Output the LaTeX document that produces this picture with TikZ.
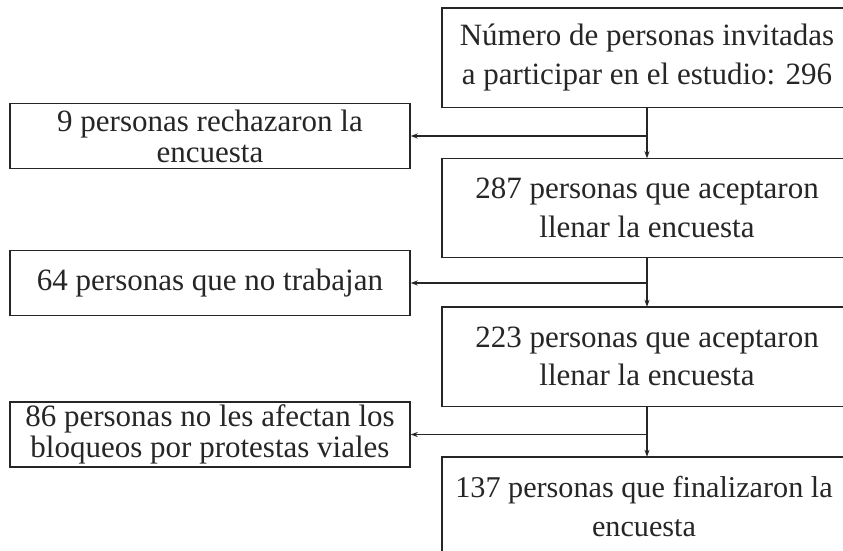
\documentclass[tikz,border=0pt]{standalone}
\usepackage{fontspec}
\setmainfont{Liberation Serif}
\usetikzlibrary{arrows.meta,calc}
\definecolor{ink}{RGB}{38,38,38}
\begin{document}
\begin{tikzpicture}[x=1pt,y=-1pt,
  rbox/.style={minimum width=410pt, minimum height=99pt, inner sep=0pt, align=center, text=ink, font=\fontsize{31}{38.5}\selectfont},
  lbox/.style={draw=ink, line width=1.4pt, minimum width=400pt, minimum height=65pt, inner sep=0pt, align=center, text=ink, font=\fontsize{31}{31}\selectfont},
  frame/.style={draw=ink, line width=1.4pt},
  conn/.style={draw=ink, line width=1.1pt, -{Stealth[length=7pt,width=5pt]}}]
\useasboundingbox (0,0) rectangle (843,550);
\fill[white] (0,0) rectangle (843,550);
\clip (0,0) rectangle (843,550);
\node[rbox] (a) at (647,57.5) {Número de personas invitadas\\a participar en el estudio: 296};
\node[rbox] (b) at (647,208) {287 personas que aceptaron\\llenar la encuesta};
\node[rbox] (c) at (647,356.5) {223 personas que aceptaron\\llenar la encuesta};
\node[rbox, minimum width=404pt, font=\fontsize{30.2}{38.5}\selectfont] (d) at (644,506.5) {137 personas que finalizaron la\\encuesta};
\foreach \n in {a,b,c,d}
  \draw[frame] ([xshift=20pt]\n.north east) -- (\n.north west) -- (\n.south west) -- ([xshift=20pt]\n.south east);
\node[lbox] (l1) at (210,136) {9 personas rechazaron la\\encuesta};
\node[lbox] (l2) at (210,283) {64 personas que no trabajan};
\node[lbox] (l3) at (210,434.5) {86 personas no les afectan los\\bloqueos por protestas viales};
\coordinate (j1) at (a.south |- l1.east);
\coordinate (j2) at (b.south |- l2.east);
\coordinate (j3) at (c.south |- l3.east);
\draw[conn] (a.south) -- (b.north);
\draw[conn] (b.south) -- (c.north);
\draw[conn] (c.south) -- (c.south |- d.north);
\draw[conn] (j1) -- (l1.east);
\draw[conn] (j2) -- (l2.east);
\draw[conn] (j3) -- (l3.east);
\end{tikzpicture}
\end{document}
